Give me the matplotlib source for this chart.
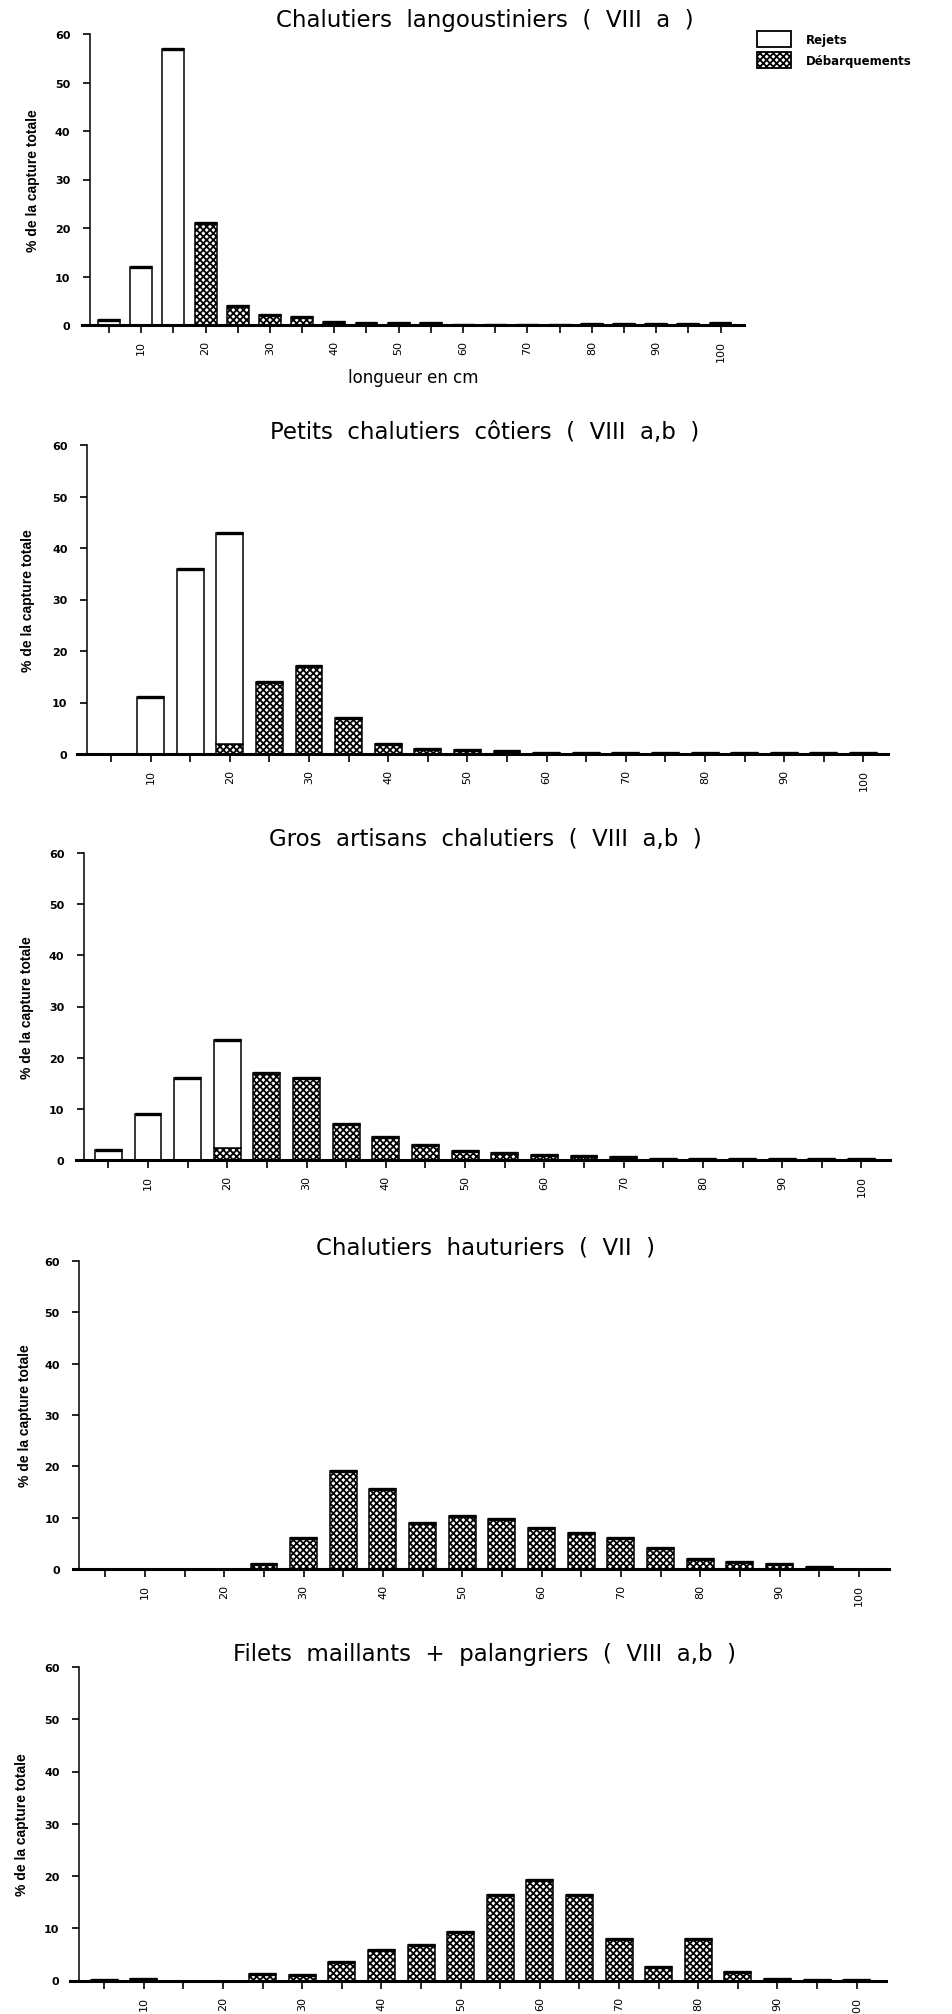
import matplotlib
matplotlib.use("Agg")
import matplotlib.pyplot as plt
from matplotlib.patches import Patch
import numpy as np

plt.rcParams['hatch.linewidth'] = 1.3
plt.rcParams['font.family'] = ['DejaVu Sans']

# ---------------- data ----------------
lengths = list(range(5, 105, 5))          # classes de longueur (cm)
xtick_major = list(range(10, 110, 10))
xtick_minor = list(range(5, 100, 10))
ytick_values = [0, 10, 20, 30, 40, 50, 60]

titles = [
    "Chalutiers  langoustiniers  (  VIII  a  )",
    "Petits  chalutiers  côtiers  (  VIII  a,b  )",
    "Gros  artisans  chalutiers  (  VIII  a,b  )",
    "Chalutiers  hauturiers  (  VII  )",
    "Filets  maillants  +  palangriers  (  VIII  a,b  )",
]
ylabel = "% de la capture totale"
xlabel = "longueur en cm"
legend_labels = ["Rejets", "Débarquements"]

rejets_langoustiniers = [1, 12, 57, 0, 0, 0, 0, 0, 0, 0, 0, 0, 0, 0, 0, 0, 0, 0, 0, 0]
debarq_langoustiniers = [0, 0, 0, 21, 4, 2, 1.6, 0.7, 0.4, 0.4, 0.4, 0.1, 0.1, 0.1, 0.1, 0.2, 0.2, 0.2, 0.2, 0.4]

rejets_petits = [0, 11, 36, 41, 0, 0, 0, 0, 0, 0, 0, 0, 0, 0, 0, 0, 0, 0, 0, 0]
debarq_petits = [0, 0, 0, 2, 14, 17, 7, 2, 1, 0.7, 0.5, 0.1, 0.1, 0.1, 0.1, 0.2, 0.2, 0.2, 0.2, 0.2]

rejets_gros = [2, 9, 16, 21.2, 0, 0, 0, 0, 0, 0, 0, 0, 0, 0, 0, 0, 0, 0, 0, 0]
debarq_gros = [0, 0, 0, 2.3, 17, 16, 7, 4.4, 3, 1.8, 1.3, 1.0, 0.7, 0.5, 0.2, 0.1, 0.1, 0.1, 0.1, 0.1]

rejets_hauturiers = [0, 0, 0, 0, 0, 0, 0, 0, 0, 0, 0, 0, 0, 0, 0, 0, 0, 0, 0, 0]
debarq_hauturiers = [0, 0, 0, 0, 1, 6, 19, 15.5, 9, 10.3, 9.7, 7.9, 7, 6, 4, 2, 1.4, 1, 0.4, 0]

rejets_filets = [0, 0, 0, 0, 0, 0, 0, 0, 0, 0, 0, 0, 0, 0, 0, 0, 0, 0, 0, 0]
debarq_filets = [0.1, 0.2, 0, 0, 1.2, 1.1, 3.6, 5.8, 6.8, 9.3, 16.3, 19.3, 16.3, 8, 2.6, 8, 1.6, 0.3, 0.1, 0.1]

rejets_all = [rejets_langoustiniers, rejets_petits, rejets_gros, rejets_hauturiers, rejets_filets]
debarq_all = [debarq_langoustiniers, debarq_petits, debarq_gros, debarq_hauturiers, debarq_filets]

# ---------------- layout (pixels) ----------------
W, H = 952, 2015
# left, right, top(y=60), bottom(y=0), xmin, xmax, y-axis x (data), ylabel centre px, title centre y px
layout = [
    (82.0, 744.0, 35.0, 326.0, 0.80, 103.65, 2.03, 33, 21),
    (76.7, 888.0, 446.0, 755.0, 0.67, 103.10, 1.97, 28, 432),
    (76.0, 890.0, 854.0, 1161.0, 0.92, 103.60, 1.90, 27, 840),
    (73.0, 889.0, 1262.0, 1570.0, 0.92, 103.80, 1.70, 25, 1248),
    (70.0, 886.0, 1668.0, 1981.5, 0.67, 103.70, 1.80, 22, 1655),
]
title_cx = 485
bar_w = 3.4
hatch = 'xxxxx'

fig = plt.figure(figsize=(W / 100, H / 100), dpi=100)

axes = []
for i in range(5):
    L, R, T, B, xmin, xmax, yax, ylab_px, tit_y = layout[i]
    ax = fig.add_axes([L / W, 1 - B / H, (R - L) / W, (B - T) / H])
    axes.append(ax)
    x = np.array(lengths, dtype=float)
    deb = np.array(debarq_all[i], dtype=float)
    rej = np.array(rejets_all[i], dtype=float)

    ax.bar(x, deb, width=bar_w, color='white', edgecolor='black',
           hatch=hatch, linewidth=1.1, zorder=2)
    ax.bar(x, rej, bottom=deb, width=bar_w, color='white', edgecolor='black',
           linewidth=1.1, zorder=2)
    tot = deb + rej
    m = tot > 0
    ax.hlines(tot[m], x[m] - bar_w / 2, x[m] + bar_w / 2, color='black',
              lw=2.4, zorder=3)

    ax.set_xlim(xmin, xmax)
    ax.set_ylim(0, 60)

    for s in ['top', 'right']:
        ax.spines[s].set_visible(False)
    ax.spines['left'].set_position(('data', yax))
    ax.spines['left'].set_linewidth(1.1)
    ax.spines['bottom'].set_linewidth(2.2)
    ax.spines['bottom'].set_zorder(4)

    ax.set_xticks(xtick_major)
    ax.set_xticks(xtick_minor, minor=True)
    ax.set_xticklabels([str(v) for v in xtick_major], rotation=90,
                       fontsize=8)
    ax.tick_params(axis='x', which='both', direction='out', length=6,
                   width=1.2, pad=5)
    ax.set_yticks(ytick_values)
    ax.set_yticklabels([str(v) for v in ytick_values], fontsize=8,
                       fontweight='bold')
    ax.tick_params(axis='y', direction='out', length=5, width=1.2, pad=9)

    ax.set_ylabel(ylabel, fontsize=10, fontweight='bold',
                  family=['Liberation Sans Narrow', 'Liberation Sans'])
    ax.yaxis.label.set_verticalalignment('center')
    ax.yaxis.set_label_coords((ylab_px - L) / (R - L), 0.5)

    ax.set_title(titles[i], fontsize=16.5, x=(title_cx - L) / (R - L),
                 y=(B - tit_y) / (B - T), va='center', ha='center', pad=0)

axes[0].set_xlabel(xlabel, fontsize=12, labelpad=5)

handles = [Patch(facecolor='white', edgecolor='black', linewidth=1.3),
           Patch(facecolor='white', edgecolor='black', hatch=hatch, linewidth=1.3)]
fig.legend(handles, legend_labels, loc='upper left',
           bbox_to_anchor=(757 / W, 1 - 32 / H), frameon=False,
           borderpad=0, borderaxespad=0, handlelength=2.9, handleheight=1.7,
           handletextpad=1.2, labelspacing=0.45,
           prop={'size': 8.5, 'weight': 'bold'})

fig.savefig("out.png", dpi=100, facecolor='white')
